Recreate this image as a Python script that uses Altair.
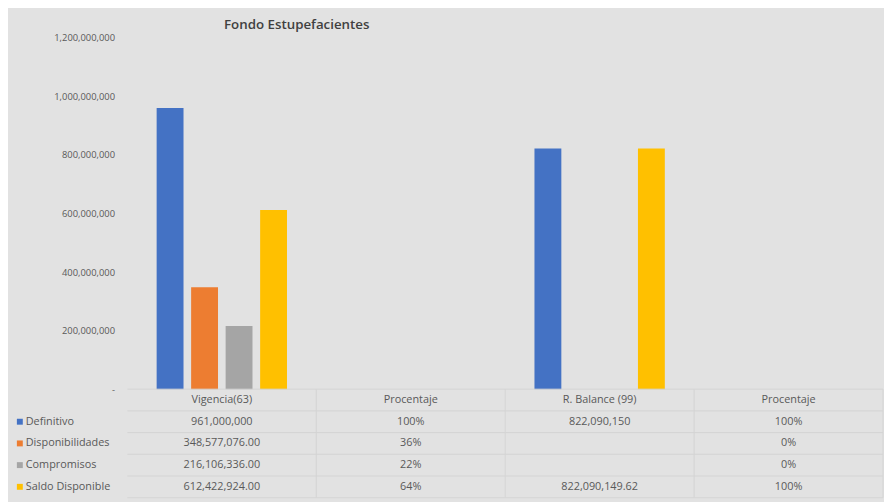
import altair as alt
import pandas as pd

title_text = "Fondo Estupefacientes"
series = ["Definitivo", "Disponibilidades", "Compromisos", "Saldo Disponible"]
colors = ["#4472C4", "#ED7D31", "#A5A5A5", "#FFC000"]
columns = ["Vigencia(63)", "Procentaje", "R. Balance (99)", "Procentaje"]
vigencia = [961000000, 348577076.00, 216106336.00, 612422924.00]
porcentaje_1 = [1.00, 0.36, 0.22, 0.64]
balance = [822090150, None, None, 822090149.62]
porcentaje_2 = [1.00, 0.00, 0.00, 1.00]
decimals = [0, 2, 2, 2]
y_ticks = [0, 200000000, 400000000, 600000000, 800000000, 1000000000, 1200000000]

FONT = "Open Sans"
TXT = "#595959"
W, H, TH = 766, 356, 110

col_values = [vigencia, porcentaje_1, balance, porcentaje_2]
col_is_pct = [False, True, False, True]
keys = [f"c{i}" for i in range(len(columns))]

bar_rows = []
for ci, vals in enumerate(col_values):
    for si, v in enumerate(vals):
        if v is not None:
            bar_rows.append({"col": keys[ci], "serie": series[si], "value": v})
bars_df = pd.DataFrame(bar_rows)

color_scale = alt.Scale(domain=series, range=colors)

bars = alt.Chart(bars_df).mark_bar().encode(
    x=alt.X("col:N", scale=alt.Scale(domain=keys, paddingInner=0.31, paddingOuter=0.155), axis=None),
    xOffset=alt.XOffset("serie:N", scale=alt.Scale(domain=series, paddingInner=0.221, paddingOuter=0)),
    y=alt.Y("value:Q", scale=alt.Scale(domain=[0, 1200000000], nice=False),
            axis=alt.Axis(values=y_ticks, grid=False, domain=False, ticks=False, title=None,
                          labelPadding=13, labelFontSize=9.5, labelColor=TXT, labelFont=FONT,
                          labelExpr="datum.value == 0 ? '-' : format(datum.value, ',')")),
    color=alt.Color("serie:N", scale=color_scale, legend=None),
).properties(
    width=W, height=H,
    title=alt.TitleParams(title_text, anchor="start", frame="group", dx=98, offset=2,
                          font=FONT, fontSize=13.5, fontWeight=600, color="#404040"),
)

# table
cells = []
for ci, name in enumerate(columns):
    cells.append({"x": ci + 0.5, "y": 0.5, "t": name})
    for si, v in enumerate(col_values[ci]):
        if v is None:
            continue
        if col_is_pct[ci]:
            t = f"{v:.0%}"
        else:
            t = f"{v:,.{decimals[si]}f}"
        cells.append({"x": ci + 0.5, "y": si + 1.5, "t": t})
cells_df = pd.DataFrame(cells)

nrows = len(series) + 1
ncols = len(columns)
xs = alt.Scale(domain=[0, ncols])
ys = alt.Scale(domain=[0, nrows], reverse=True)

h_df = pd.DataFrame({"y": list(range(nrows + 1)), "x0": 0, "x1": ncols})
v_df = pd.DataFrame({"x": list(range(1, ncols + 1)), "y0": 0, "y1": nrows})

hlines = alt.Chart(h_df).mark_rule(color="#d4d4d4", strokeWidth=1).encode(
    y=alt.Y("y:Q", scale=ys, axis=None), x=alt.X("x0:Q", scale=xs, axis=None), x2="x1:Q")
vlines = alt.Chart(v_df).mark_rule(color="#d4d4d4", strokeWidth=1).encode(
    x=alt.X("x:Q", scale=xs, axis=None), y=alt.Y("y0:Q", scale=ys, axis=None), y2="y1:Q")

texts = alt.Chart(cells_df).mark_text(font=FONT, fontSize=11, color=TXT).encode(
    x=alt.X("x:Q", scale=xs, axis=None), y=alt.Y("y:Q", scale=ys, axis=None), text="t:N")

leg_df = pd.DataFrame({"serie": series, "y": [i + 1.5 for i in range(len(series))]})
squares = alt.Chart(leg_df).mark_square(size=36, opacity=1).encode(
    x=alt.value(-109), y=alt.Y("y:Q", scale=ys, axis=None),
    color=alt.Color("serie:N", scale=color_scale, legend=None))
leg_text = alt.Chart(leg_df).mark_text(font=FONT, fontSize=11, color=TXT, align="left").encode(
    x=alt.value(-103), y=alt.Y("y:Q", scale=ys, axis=None), text="serie:N")

table = alt.layer(hlines, vlines, texts, squares, leg_text).properties(width=W, height=TH)

chart = alt.vconcat(bars, table, spacing=0, bounds="flush").properties(
    padding={"left": 9, "top": 6, "right": 0, "bottom": 0},
    background="#e2e2e2",
).configure_view(stroke=None)

chart.save("out.html", embed_options={"renderer": "svg", "actions": False})
